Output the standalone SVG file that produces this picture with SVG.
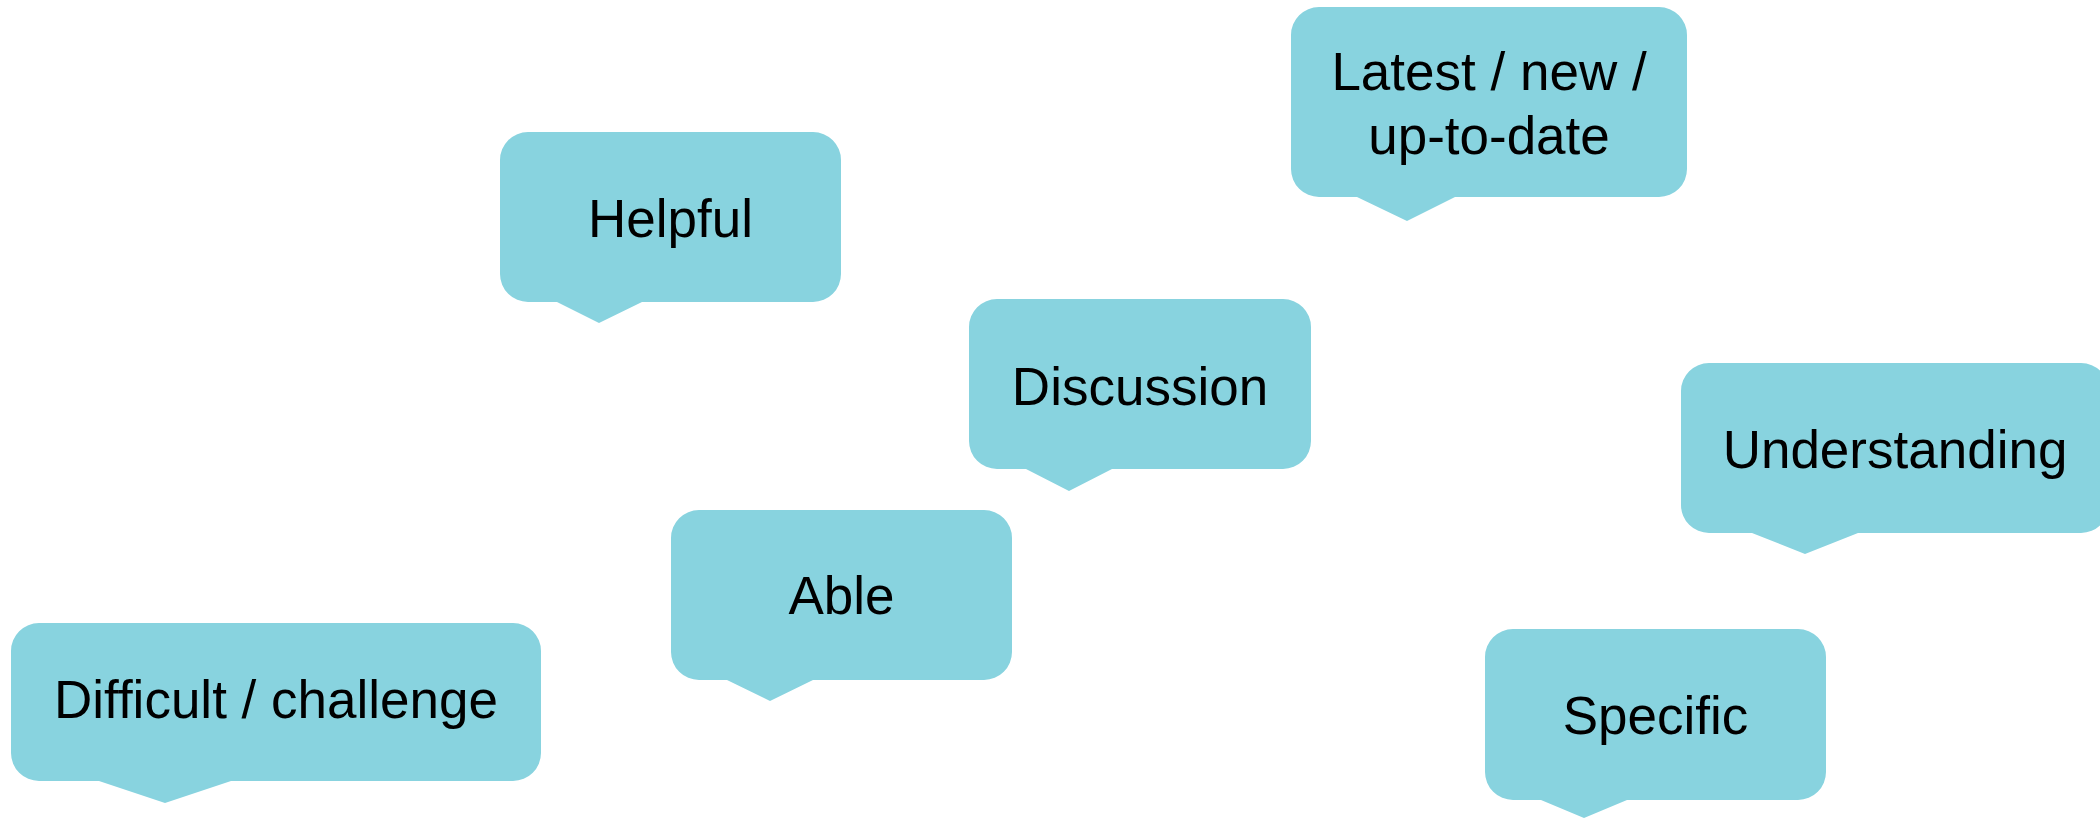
<svg xmlns="http://www.w3.org/2000/svg" width="2100" height="819" viewBox="0 0 2100 819">
<style>
.b{fill:#88d3df;stroke:none}
.t{font-family:"Liberation Sans",Arial,sans-serif;font-size:53px;fill:#000;text-anchor:middle}
</style>
<rect width="2100" height="819" fill="#fff"/>
<g id="helpful">
<path class="b" d="M528,132 H813 A28,28 0 0 1 841,160 V274 A28,28 0 0 1 813,302 H642 L599,323 L557,302 H528 A28,28 0 0 1 500,274 V160 A28,28 0 0 1 528,132 Z"/>
<text class="t" x="670.5" y="237">Helpful</text>
</g>
<g id="latest">
<path class="b" d="M1319,7 H1659 A28,28 0 0 1 1687,35 V169 A28,28 0 0 1 1659,197 H1455 L1407,221 L1357,197 H1319 A28,28 0 0 1 1291,169 V35 A28,28 0 0 1 1319,7 Z"/>
<text class="t" x="1489" y="90">Latest / new /</text>
<text class="t" x="1489" y="154">up-to-date</text>
</g>
<g id="discussion">
<path class="b" d="M997,299 H1283 A28,28 0 0 1 1311,327 V441 A28,28 0 0 1 1283,469 H1112 L1069,491 L1026,469 H997 A28,28 0 0 1 969,441 V327 A28,28 0 0 1 997,299 Z"/>
<text class="t" x="1140" y="405">Discussion</text>
</g>
<g id="understanding">
<path class="b" d="M1709,363 H2081 A28,28 0 0 1 2109,391 V505 A28,28 0 0 1 2081,533 H1858 L1805,554 L1752,533 H1709 A28,28 0 0 1 1681,505 V391 A28,28 0 0 1 1709,363 Z"/>
<text class="t" x="1895" y="468">Understanding</text>
</g>
<g id="able">
<path class="b" d="M699,510 H984 A28,28 0 0 1 1012,538 V652 A28,28 0 0 1 984,680 H813 L770,701 L727,680 H699 A28,28 0 0 1 671,652 V538 A28,28 0 0 1 699,510 Z"/>
<text class="t" x="841.5" y="614">Able</text>
</g>
<g id="difficult">
<path class="b" d="M39,623 H513 A28,28 0 0 1 541,651 V753 A28,28 0 0 1 513,781 H231 L165,803 L99,781 H39 A28,28 0 0 1 11,753 V651 A28,28 0 0 1 39,623 Z"/>
<text class="t" x="276" y="718">Difficult / challenge</text>
</g>
<g id="specific">
<path class="b" d="M1513,629 H1798 A28,28 0 0 1 1826,657 V772 A28,28 0 0 1 1798,800 H1627 L1584,818 L1541,800 H1513 A28,28 0 0 1 1485,772 V657 A28,28 0 0 1 1513,629 Z"/>
<text class="t" x="1655.5" y="734">Specific</text>
</g>
</svg>
